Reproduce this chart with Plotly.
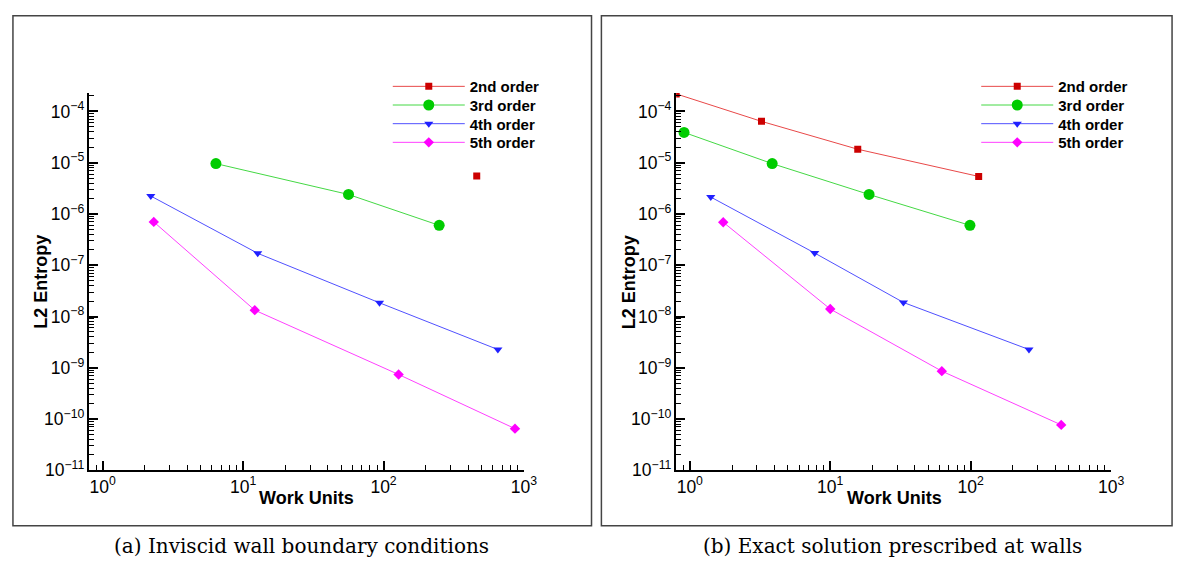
import plotly.graph_objects as go

# ---------------- data ----------------
series_names = ["2nd order", "3rd order", "4th order", "5th order"]

# (a) Inviscid wall boundary conditions
a_2nd_x = [461]
a_2nd_y = [5.5e-6]
a_3rd_x = [6.4, 56.3, 249]
a_3rd_y = [9.6e-6, 2.4e-6, 6.0e-7]
a_4th_x = [2.2, 12.7, 93.6, 652]
a_4th_y = [2.24e-6, 1.71e-7, 1.85e-8, 2.27e-9]
a_5th_x = [2.31, 12.1, 128, 863]
a_5th_y = [7.0e-7, 1.33e-8, 7.4e-10, 6.5e-11]

# (b) Exact solution prescribed at walls
b_2nd_x = [0.80, 3.24, 15.7, 114]
b_2nd_y = [2.2e-4, 6.4e-5, 1.83e-5, 5.4e-6]
b_3rd_x = [0.91, 3.86, 18.9, 98.8]
b_3rd_y = [3.9e-5, 9.6e-6, 2.4e-6, 6.0e-7]
b_4th_x = [1.41, 7.75, 33.2, 260]
b_4th_y = [2.14e-6, 1.73e-7, 1.88e-8, 2.27e-9]
b_5th_x = [1.73, 10.0, 62.3, 441]
b_5th_y = [6.9e-7, 1.40e-8, 8.6e-10, 7.7e-11]

# tick label text for the small powers of ten on x
x_label_alias = {"1": "10<sup>0</sup>", "10": "10<sup>1</sup>"}

captions = ["(a) Inviscid wall boundary conditions", "(b) Exact solution prescribed at walls"]
x_title = "Work Units"
y_title = "L2 Entropy"

# ---------------- styles ----------------
W, H = 1182, 569
line_colors = ["#e84848", "#44d844", "#5050ff", "#ff40ff"]
marker_colors = ["#cc0000", "#00cc00", "#2020ff", "#ff00ff"]
symbols = ["square", "circle", "triangle-down", "diamond"]
sizes = [7, 11, 8, 8]
legend_rows_y = [80, 99, 118, 137]

X_RANGE = [-0.097, 3.0]
Y_RANGE = [-11, -3.64]

def px_x(p):
    return p / W

def px_y(p):
    return 1 - p / H

fig = go.Figure()

panels = [
    ([a_2nd_x, a_3rd_x, a_4th_x, a_5th_x], [a_2nd_y, a_3rd_y, a_4th_y, a_5th_y], "x", "y", 0, 384),
    ([b_2nd_x, b_3rd_x, b_4th_x, b_5th_x], [b_2nd_y, b_3rd_y, b_4th_y, b_5th_y], "x2", "y2", 4, 979),
]
legend_layouts = {}
for xs, ys, xa, ya, lg0, lgx in panels:
    for i in range(4):
        n = lg0 + i + 1
        lg = "legend" if n == 1 else "legend%d" % n
        fig.add_trace(go.Scatter(
            x=xs[i], y=ys[i], mode="lines+markers", name=series_names[i],
            line=dict(color=line_colors[i], width=1),
            marker=dict(symbol=symbols[i], size=sizes[i], color=marker_colors[i]),
            xaxis=xa, yaxis=ya, legend=lg,
        ))
        legend_layouts[lg] = dict(
            x=px_x(lgx), y=px_y(legend_rows_y[i]), xanchor="left", yanchor="middle",
            bgcolor="rgba(0,0,0,0)", itemwidth=72, borderwidth=0,
            font=dict(family="Liberation Sans", size=15, color="black", weight="bold"))

common_x = dict(
    type="log", range=X_RANGE, dtick=1, exponentformat="power", labelalias=x_label_alias,
    showline=True, linecolor="black", linewidth=2,
    ticks="inside", ticklen=9, tickwidth=2, tickcolor="black",
    minor=dict(ticks="inside", ticklen=5, tickwidth=1, tickcolor="black"),
    tickfont=dict(family="Liberation Sans", size=14, color="black"),
)
common_y = dict(
    type="log", range=Y_RANGE, dtick=1, exponentformat="power",
    showline=True, linecolor="black", linewidth=2,
    ticks="inside", ticklen=9, tickwidth=2, tickcolor="black",
    minor=dict(ticks="inside", ticklen=5, tickwidth=1, tickcolor="black"),
    tickfont=dict(family="Liberation Sans", size=14, color="black"),
)

ydom = [px_y(470.6), px_y(86.5)]
xdom1 = [px_x(82), px_x(521.7)]
xdom2 = [px_x(675.6), px_x(1115.4)]
fig.update_layout(
    width=W, height=H, margin=dict(l=0, r=0, t=0, b=0),
    paper_bgcolor="white", plot_bgcolor="white",
    xaxis=dict(common_x, domain=xdom1, anchor="y"),
    yaxis=dict(common_y, domain=ydom, anchor="x"),
    xaxis2=dict(common_x, domain=xdom2, anchor="y2"),
    yaxis2=dict(common_y, domain=ydom, anchor="x2"),
    showlegend=True,
    **legend_layouts,
)

# panel frames (outside the plotting areas)
for x0, x1 in [(5, 590), (600, 1177)]:
    fig.add_shape(type="rect", xref="paper", yref="paper",
                  x0=px_x(x0), x1=px_x(x1), y0=px_y(527), y1=px_y(8),
                  line=dict(color="#444444", width=1.5), fillcolor="rgba(0,0,0,0)", layer="above")

# axis titles
title_font = dict(family="Liberation Sans", size=18, color="black", weight="bold")
for ytx, xtx in [(33, 302), (628, 896)]:
    fig.add_annotation(xref="paper", yref="paper", x=px_x(ytx), y=px_y(279), text=y_title,
                       textangle=-90, showarrow=False, xanchor="center", yanchor="middle", font=title_font)
    fig.add_annotation(xref="paper", yref="paper", x=px_x(xtx), y=px_y(499), text=x_title,
                       showarrow=False, xanchor="center", yanchor="middle", font=title_font)

# captions
for cx, txt in [(297, captions[0]), (894, captions[1])]:
    fig.add_annotation(xref="paper", yref="paper", x=px_x(cx), y=px_y(548),
                       text=txt, showarrow=False, xanchor="center", yanchor="middle",
                       font=dict(family="DejaVu Serif", size=20, color="black"))

fig.write_html("out.html")
